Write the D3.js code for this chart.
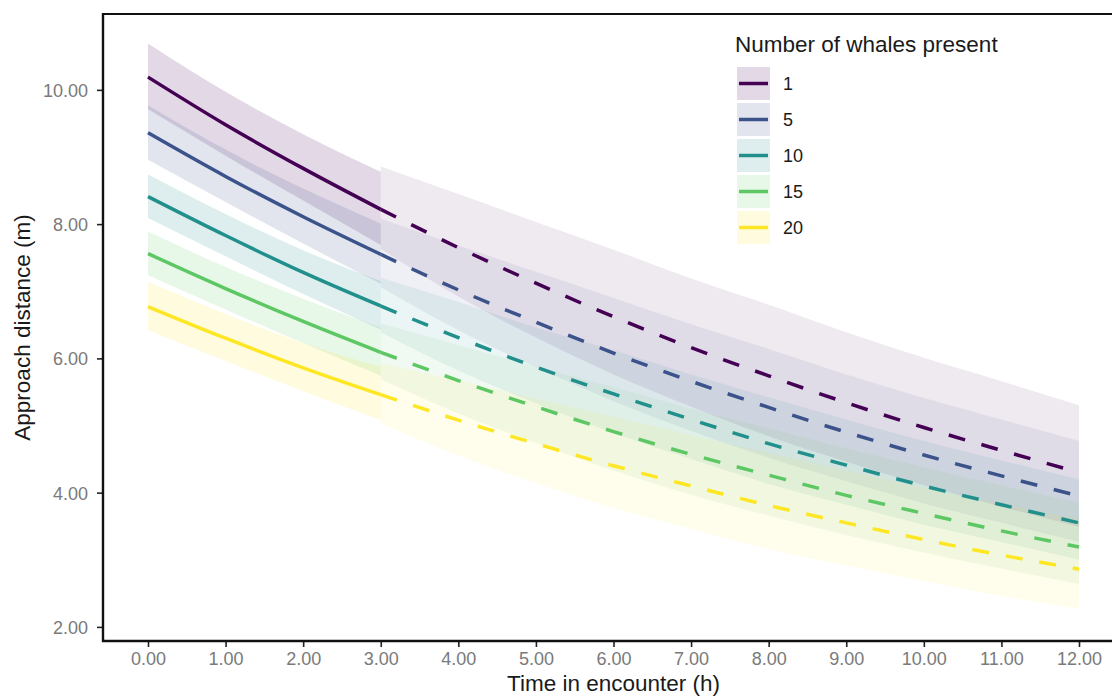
<!DOCTYPE html>
<html>
<head>
<meta charset="utf-8">
<script src="https://cdn.jsdelivr.net/npm/d3@7"></script>
<style>
  html, body { margin: 0; padding: 0; background: #ffffff; }
  svg { display: block; font-family: "Liberation Sans", Arial, Helvetica, sans-serif; }
</style>
</head>
<body>
<svg id="chart" width="1112" height="697"></svg>
<script>
// Group sizes (number of whales present) and their viridis colours
const groups = ["1", "5", "10", "15", "20"];
const colors = ["#440154", "#3B528B", "#21908C", "#5DC863", "#FDE725"];

// Hours in encounter: observed (solid) span and extrapolated (dashed) span
const hoursSolid = [0, 1, 2, 3];
const hoursDashed = [3, 4, 5, 6, 7, 8, 9, 10, 11, 12];

// Predicted approach distance (m), one row per group, hours 0..12
const fitted = [
  [10.19, 9.48, 8.83, 8.22, 7.65, 7.12, 6.62, 6.16, 5.74, 5.34, 4.97, 4.63, 4.30],
  [9.36, 8.71, 8.11, 7.55, 7.02, 6.54, 6.08, 5.66, 5.27, 4.90, 4.56, 4.25, 3.95],
  [8.41, 7.83, 7.28, 6.78, 6.31, 5.87, 5.47, 5.09, 4.73, 4.41, 4.10, 3.82, 3.55],
  [7.56, 7.04, 6.55, 6.09, 5.67, 5.28, 4.91, 4.57, 4.26, 3.96, 3.69, 3.43, 3.19],
  [6.77, 6.30, 5.86, 5.46, 5.08, 4.73, 4.40, 4.10, 3.81, 3.55, 3.30, 3.07, 2.86]
];

// Confidence band over the observed span (hours 0..3)
const solidLower = [
  [9.71, 9.02, 8.35, 7.69],
  [8.96, 8.33, 7.71, 7.11],
  [8.09, 7.52, 6.96, 6.43],
  [7.24, 6.73, 6.23, 5.74],
  [6.42, 5.96, 5.51, 5.08]
];
const solidUpper = [
  [10.69, 9.97, 9.34, 8.78],
  [9.77, 9.11, 8.53, 8.01],
  [8.74, 8.15, 7.61, 7.15],
  [7.89, 7.36, 6.89, 6.46],
  [7.14, 6.66, 6.23, 5.87]
];

// Confidence band over the extrapolated span (hours 3..12)
const dashedLower = [
  [7.63, 6.92, 6.31, 5.76, 5.28, 4.84, 4.46, 4.11, 3.79, 3.49],
  [7.06, 6.42, 5.87, 5.36, 4.92, 4.52, 4.17, 3.84, 3.55, 3.27],
  [6.39, 5.82, 5.33, 4.89, 4.50, 4.13, 3.82, 3.52, 3.26, 3.00],
  [5.69, 5.18, 4.74, 4.33, 3.97, 3.66, 3.37, 3.11, 2.87, 2.64],
  [5.03, 4.55, 4.14, 3.77, 3.46, 3.16, 2.91, 2.68, 2.46, 2.27]
];
const dashedUpper = [
  [8.86, 8.45, 8.03, 7.62, 7.19, 6.80, 6.39, 6.01, 5.66, 5.30],
  [8.08, 7.68, 7.29, 6.90, 6.51, 6.14, 5.76, 5.41, 5.09, 4.77],
  [7.20, 6.84, 6.46, 6.12, 5.76, 5.42, 5.09, 4.77, 4.48, 4.20],
  [6.52, 6.20, 5.88, 5.57, 5.25, 4.96, 4.66, 4.38, 4.11, 3.85],
  [5.93, 5.67, 5.40, 5.13, 4.86, 4.59, 4.33, 4.07, 3.83, 3.60]
];

// Axis ticks
const xTicks = [0, 1, 2, 3, 4, 5, 6, 7, 8, 9, 10, 11, 12];
const yTicks = [2, 4, 6, 8, 10];

// ---- layout ----
const panel = { left: 103, right: 1124, top: 14, bottom: 641 };
const svg = d3.select("#chart");

const x = d3.scaleLinear().domain([-0.58, 12.58]).range([panel.left, panel.right]);
const y = d3.scaleLinear().domain([1.79, 11.13]).range([panel.bottom, panel.top]);

const fmt = d3.format(".2f");
const curve = d3.curveMonotoneX;

// ---- confidence ribbons ----
const ribbons = svg.append("g");
function drawRibbon(hrs, lo, hi, color, opacity) {
  const pts = hrs.map((h, i) => ({ h, lo: lo[i], hi: hi[i] }));
  const area = d3.area().curve(curve)
    .x(d => x(d.h)).y0(d => y(d.lo)).y1(d => y(d.hi));
  ribbons.append("path").datum(pts)
    .attr("d", area)
    .attr("fill", color)
    .attr("fill-opacity", opacity);
}
groups.forEach((g, k) => {
  drawRibbon(hoursSolid, solidLower[k], solidUpper[k], colors[k], 0.15);
  drawRibbon(hoursDashed, dashedLower[k], dashedUpper[k], colors[k], 0.085);
});

// ---- fitted lines ----
const lines = svg.append("g");
const line = d3.line().curve(curve).x(d => x(d.h)).y(d => y(d.v));
groups.forEach((g, k) => {
  const solidPts = hoursSolid.map(h => ({ h, v: fitted[k][h] }));
  const dashedPts = hoursDashed.map(h => ({ h, v: fitted[k][h] }));
  lines.append("path").datum(solidPts)
    .attr("d", line).attr("fill", "none")
    .attr("stroke", colors[k]).attr("stroke-width", 3.5);
  lines.append("path").datum(dashedPts)
    .attr("d", line).attr("fill", "none")
    .attr("stroke", colors[k]).attr("stroke-width", 3.5)
    .attr("stroke-dasharray", "17,17");
});

// ---- axes ----
const xAxis = svg.append("g")
  .attr("transform", `translate(0,${panel.bottom})`)
  .call(d3.axisBottom(x).tickValues(xTicks).tickFormat(fmt).tickSize(6).tickPadding(5));
const yAxis = svg.append("g")
  .attr("transform", `translate(${panel.left},0)`)
  .call(d3.axisLeft(y).tickValues(yTicks).tickFormat(fmt).tickSize(6).tickPadding(9));

[xAxis, yAxis].forEach(ax => {
  ax.select(".domain").remove();
  ax.selectAll(".tick line").attr("stroke", "#222").attr("stroke-width", 1.6);
  ax.selectAll(".tick text")
    .attr("fill", "#7a7a7a")
    .style("font-size", "18px")
    .style("font-family", "'Liberation Sans', Arial, sans-serif");
});
yAxis.selectAll(".tick text").attr("dy", "0.36em");

// panel frame: top edge plus axis lines
svg.append("line")
  .attr("x1", panel.left).attr("x2", panel.right)
  .attr("y1", panel.top).attr("y2", panel.top)
  .attr("stroke", "#111").attr("stroke-width", 2);
svg.append("line")
  .attr("x1", panel.left).attr("x2", panel.left)
  .attr("y1", panel.top - 1).attr("y2", panel.bottom + 1)
  .attr("stroke", "#111").attr("stroke-width", 2.4);
svg.append("line")
  .attr("x1", panel.left - 1).attr("x2", panel.right)
  .attr("y1", panel.bottom).attr("y2", panel.bottom)
  .attr("stroke", "#111").attr("stroke-width", 2.4);

// axis titles
svg.append("text")
  .attr("x", (panel.left + panel.right) / 2).attr("y", 691)
  .attr("text-anchor", "middle")
  .attr("fill", "#1a1a1a").style("font-size", "22.5px")
  .text("Time in encounter (h)");
svg.append("text")
  .attr("transform", `translate(30,${(panel.top + panel.bottom) / 2}) rotate(-90)`)
  .attr("text-anchor", "middle")
  .attr("fill", "#1a1a1a").style("font-size", "22.5px")
  .text("Approach distance (m)");

// ---- legend ----
const legend = svg.append("g").attr("transform", "translate(737,0)");
legend.append("text")
  .attr("x", -2).attr("y", 52)
  .attr("fill", "#1a1a1a").style("font-size", "22.5px")
  .text("Number of whales present");
const keyTop = 67, keyStep = 36, keySize = 33;
groups.forEach((g, k) => {
  const ky = keyTop + k * keyStep;
  legend.append("rect")
    .attr("x", 0).attr("y", ky).attr("width", keySize).attr("height", keySize)
    .attr("fill", colors[k]).attr("fill-opacity", 0.15);
  legend.append("line")
    .attr("x1", 2).attr("x2", keySize - 2)
    .attr("y1", ky + keySize / 2).attr("y2", ky + keySize / 2)
    .attr("stroke", colors[k]).attr("stroke-width", 3.5);
  legend.append("text")
    .attr("x", 46).attr("y", ky + keySize / 2).attr("dy", "0.36em")
    .attr("fill", "#1a1a1a").style("font-size", "18px")
    .text(g);
});
</script>
</body>
</html>
